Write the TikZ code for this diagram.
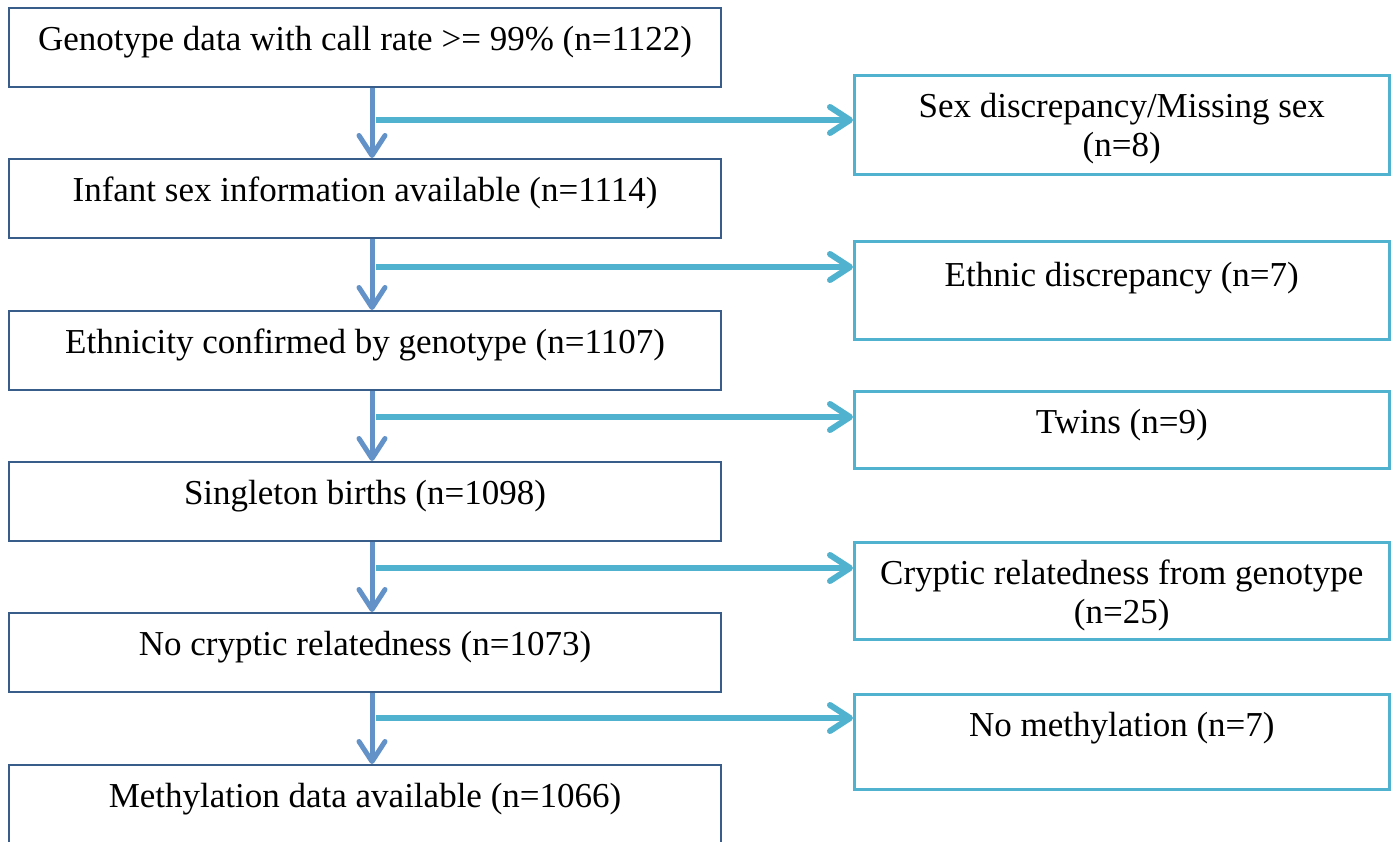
\documentclass[tikz,border=0pt]{standalone}
\usepackage{fontspec}
\setmainfont{Liberation Serif}
\usetikzlibrary{arrows.meta}

\definecolor{stageblue}{RGB}{56,93,138}
\definecolor{downblue}{RGB}{98,146,200}
\definecolor{sidecyan}{RGB}{80,178,206}

\begin{document}
\begin{tikzpicture}
  [x=1pt,y=-1pt,
   every node/.style={font=\fontsize{35}{39}\selectfont,inner sep=0pt,anchor=north west,align=center},
   stage/.style={draw=stageblue,line width=2pt,minimum width=712pt,text height=42pt,text depth=37pt},
   dropped/.style={draw=sidecyan,line width=2.5pt,minimum width=535pt,text height=42pt},
   down/.style={draw=downblue,line width=5pt,-{Straight Barb[length=20pt,width=26pt,round]}},
   side/.style={draw=sidecyan,line width=6pt,-{Straight Barb[length=20pt,width=26pt,round]}}]
  \useasboundingbox (0,0) rectangle (1397,841);

  \node[stage] (s1) at (8,7)   {Genotype data with call rate >= 99\% (n=1122)};
  \node[stage] (s2) at (8,158) {Infant sex information available (n=1114)};
  \node[stage] (s3) at (8,310) {Ethnicity confirmed by genotype (n=1107)};
  \node[stage] (s4) at (8,461) {Singleton births (n=1098)};
  \node[stage] (s5) at (8,612) {No cryptic relatedness (n=1073)};
  \node[stage] (s6) at (8,764) {Methylation data available (n=1066)};

  \node[dropped,text height=81pt,text depth=18pt] (x1) at (853,74)  {Sex discrepancy/Missing sex\\(n=8)};
  \node[dropped,text height=45pt,text depth=53pt] (x2) at (853,240) {Ethnic discrepancy (n=7)};
  \node[dropped,text depth=35pt] (x3) at (853,390) {Twins (n=9)};
  \node[dropped,text height=81pt,text depth=16pt] (x4) at (853,541) {Cryptic relatedness from genotype\\(n=25)};
  \node[dropped,text depth=53pt] (x5) at (853,693) {No methylation (n=7)};

  \coordinate (h1) at (376,120);
  \coordinate (h2) at (376,267);
  \coordinate (h3) at (376,417);
  \coordinate (h4) at (376,568);
  \coordinate (h5) at (376,718);

  \foreach \from/\to in {s1/s2,s2/s3,s3/s4,s4/s5,s5/s6}
    \draw[down] ([xshift=7pt]\from.south) -- ([xshift=7pt]\to.north);

  \foreach \from/\to in {h1/x1,h2/x2,h3/x3,h4/x4,h5/x5}
    \draw[side] (\from) -- (\from -| \to.west);

\end{tikzpicture}
\end{document}
